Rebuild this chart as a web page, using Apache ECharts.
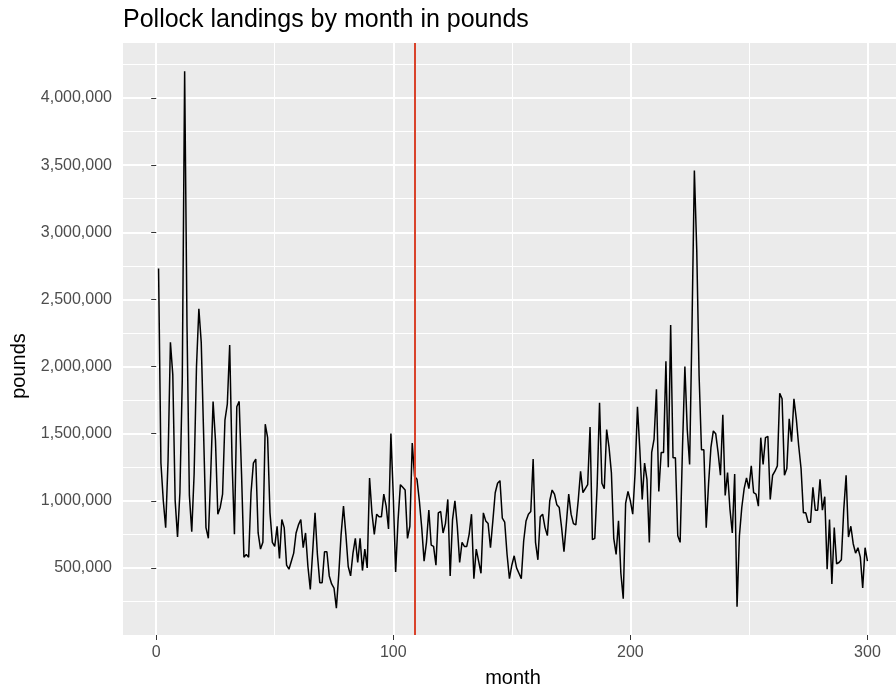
<!DOCTYPE html>
<html>
<head>
<meta charset="utf-8">
<script src="https://cdn.jsdelivr.net/npm/echarts@6/dist/echarts.min.js"></script>
<style>
  html, body { margin: 0; padding: 0; background: #fff; }
  #landings_chart { width: 896px; height: 688px; }
</style>
</head>
<body>
<div id="landings_chart"></div>
<script>
// monthly pollock landings, months 1..300
var pounds = [
  2730000, 1280000, 1000000, 800000, 1300000, 2180000, 1940000, 1000000, 730000, 1060000,
  1900000, 4200000, 2300000, 1040000, 770000, 1200000, 2000000, 2430000, 2180000, 1500000,
  800000, 720000, 1200000, 1740000, 1450000, 900000, 950000, 1050000, 1600000, 1720000,
  2160000, 1300000, 750000, 1700000, 1740000, 1200000, 580000, 600000, 580000, 1060000,
  1280000, 1310000, 760000, 640000, 690000, 1570000, 1470000, 910000, 690000, 660000,
  810000, 570000, 860000, 800000, 520000, 490000, 550000, 610000, 760000, 820000,
  860000, 650000, 760000, 510000, 340000, 620000, 910000, 600000, 390000, 390000,
  620000, 620000, 440000, 380000, 350000, 200000, 450000, 750000, 960000, 750000,
  510000, 440000, 610000, 720000, 540000, 720000, 480000, 640000, 500000, 1170000,
  910000, 750000, 900000, 880000, 880000, 1050000, 960000, 790000, 1500000, 1040000,
  470000, 850000, 1120000, 1100000, 1080000, 720000, 810000, 1430000, 1180000, 1160000,
  1000000, 800000, 550000, 690000, 930000, 670000, 660000, 520000, 910000, 920000,
  760000, 830000, 1010000, 440000, 860000, 1000000, 810000, 540000, 690000, 660000,
  660000, 750000, 900000, 420000, 640000, 550000, 460000, 910000, 850000, 830000,
  650000, 850000, 1060000, 1130000, 1150000, 870000, 840000, 600000, 420000, 520000,
  590000, 500000, 460000, 420000, 700000, 850000, 900000, 920000, 1310000, 690000,
  560000, 880000, 900000, 800000, 740000, 1000000, 1080000, 1050000, 970000, 950000,
  800000, 620000, 830000, 1050000, 900000, 830000, 820000, 1000000, 1220000, 1060000,
  1090000, 1120000, 1550000, 710000, 720000, 1110000, 1730000, 1130000, 1090000, 1530000,
  1400000, 1210000, 720000, 600000, 850000, 460000, 270000, 980000, 1070000, 1000000,
  900000, 1210000, 1700000, 1380000, 1010000, 1280000, 1160000, 690000, 1360000, 1460000,
  1830000, 1070000, 1360000, 1360000, 2040000, 1250000, 2310000, 1320000, 1320000, 740000,
  690000, 1400000, 2000000, 1530000, 1270000, 2300000, 3460000, 2870000, 1930000, 1380000,
  1380000, 800000, 1130000, 1400000, 1520000, 1500000, 1360000, 1190000, 1640000, 1040000,
  1210000, 940000, 760000, 1200000, 210000, 740000, 950000, 1090000, 1170000, 1090000,
  1260000, 1060000, 1050000, 960000, 1470000, 1270000, 1470000, 1480000, 1010000, 1190000,
  1220000, 1260000, 1800000, 1760000, 1190000, 1240000, 1610000, 1440000, 1760000, 1610000,
  1410000, 1240000, 910000, 910000, 840000, 840000, 1100000, 930000, 930000, 1160000,
  930000, 1030000, 490000, 860000, 380000, 800000, 530000, 540000, 560000, 930000,
  1190000, 730000, 810000, 680000, 610000, 650000, 580000, 350000, 650000, 550000
]
var xTicks = [0, 100, 200, 300]
var xMinor = [50, 150, 250]
var yTicks = [500000, 1000000, 1500000, 2000000, 2500000, 3000000, 3500000, 4000000]
var yMinor = [250000, 750000, 1250000, 1750000, 2250000, 2750000, 3250000, 3750000, 4250000]
var cutMonth = 109

var data = pounds.map(function (v, i) {
  return [i + 1, v]
})

var font = 'Liberation Sans, Arial, Helvetica, sans-serif'
var landings_chart = echarts.init(document.getElementById('landings_chart'))

option = {
  animation: false,
  backgroundColor: '#fff',
  title: {
    text: 'Pollock landings by month in pounds',
    left: 118,
    top: 3,
    textStyle: { fontFamily: font, fontSize: 25, fontWeight: 'normal', color: '#000' },
  },
  grid: {
    left: 123,
    top: 43,
    width: 780,
    height: 592,
    outerBoundsMode: 'none',
    containLabel: false,
    show: true,
    backgroundColor: '#ebebeb',
    borderWidth: 0,
  },
  xAxis: [
    {
      type: 'value',
      min: -14,
      max: 315,
      name: 'month',
      nameLocation: 'middle',
      nameGap: 33,
      nameTextStyle: { fontFamily: font, fontSize: 20, color: '#000' },
      axisLine: { show: false },
      axisTick: { show: true, length: 5, customValues: xTicks, lineStyle: { color: '#333', width: 1 } },
      axisLabel: { customValues: xTicks, margin: 10, fontFamily: font, fontSize: 16, color: '#4d4d4d' },
      splitLine: { show: true, lineStyle: { color: '#fff', width: 2 } },
    },
    {
      type: 'value',
      min: -14,
      max: 315,
      position: 'bottom',
      axisLine: { show: false },
      axisTick: { show: false, customValues: xMinor },
      axisLabel: { show: false },
      splitLine: { show: true, lineStyle: { color: '#fff', width: 1 } },
    },
  ],
  yAxis: [
    {
      type: 'value',
      min: 0,
      max: 4410000,
      name: 'pounds',
      nameLocation: 'middle',
      nameGap: 91,
      nameTextStyle: { fontFamily: font, fontSize: 20, color: '#000', padding: [0, 54, 0, 0] },
      axisLine: { show: false },
      axisTick: { show: true, length: 5, customValues: yTicks, lineStyle: { color: '#333', width: 1 } },
      axisLabel: {
        customValues: yTicks,
        margin: 11,
        fontFamily: font,
        fontSize: 16,
        color: '#4d4d4d',
        formatter: function (v) {
          return v.toLocaleString('en-US')
        },
      },
      splitLine: { show: true, lineStyle: { color: '#fff', width: 2 } },
    },
    {
      type: 'value',
      min: 0,
      max: 4410000,
      position: 'left',
      axisLine: { show: false },
      axisTick: { show: false, customValues: yMinor },
      axisLabel: { show: false },
      splitLine: { show: true, lineStyle: { color: '#fff', width: 1 } },
    },
  ],
  series: [
    {
      name: 'pounds',
      type: 'line',
      xAxisIndex: 0,
      yAxisIndex: 0,
      data: data,
      showSymbol: false,
      symbol: 'none',
      lineStyle: { color: '#000', width: 1.5 },
      markLine: {
        silent: true,
        symbol: 'none',
        label: { show: false },
        lineStyle: { color: '#d9432b', width: 2, type: 'solid' },
        data: [{ xAxis: cutMonth }],
      },
    },
  ],
}
landings_chart.setOption(option)
</script>
</body>
</html>
